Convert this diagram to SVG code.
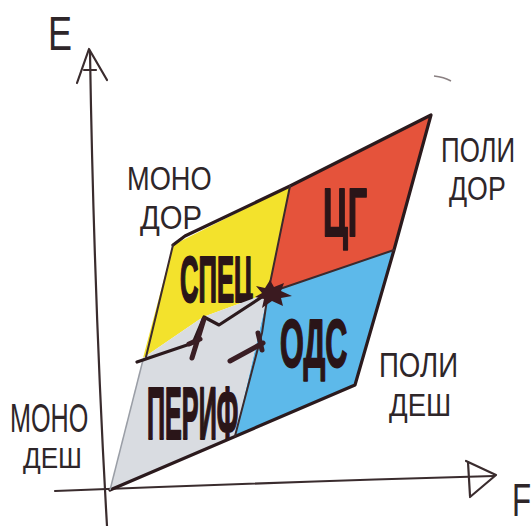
<svg xmlns="http://www.w3.org/2000/svg" width="532" height="526" viewBox="0 0 532 526">
<style>
.ax{fill:none;stroke:#3a2c2e;stroke-width:2.2;stroke-linecap:round;stroke-linejoin:round}
.edge{fill:none;stroke:#2b1a1d;stroke-width:3.2;stroke-linecap:round;stroke-linejoin:round}
.thin{fill:none;stroke:#3b2a2d;stroke-width:2;stroke-linecap:round;stroke-linejoin:round}
.lbl{font-family:"Liberation Sans",Arial,sans-serif;font-weight:normal;fill:#2e2629}
.big{font-family:"Liberation Sans",Arial,sans-serif;font-weight:bold;fill:#2a1518;stroke:#2a1518;stroke-width:1.6;vector-effect:non-scaling-stroke;stroke-linejoin:round}
.arr{fill:none;stroke:#3a1e24;stroke-width:5;stroke-linecap:round;stroke-linejoin:round}
</style>
<rect width="532" height="526" fill="#ffffff"/>
<g id="axes">
<path class="ax" d="M90,52 Q94,300 107,526"/>
<path class="ax" d="M77,83 L89,49 L107,80 M84,70 L96,70"/>
<path class="ax" d="M55,491 Q280,482 494,476"/>
<path class="ax" d="M466,461 L496,475 L470,497 M468,462 L470,496"/>
<path d="M434,76 Q444,77 451,81" fill="none" stroke="#8a8082" stroke-width="1.5"/>
<text class="lbl" font-size="48" transform="translate(48,50) scale(0.75,1)">E</text>
<text class="lbl" font-size="46" transform="translate(512,516) scale(0.68,1)">F</text>
</g>
<g id="spec">
<polygon points="173,245 290,186 268,293 203,317 143,358" fill="#f3e22c"/>
<text class="big" font-size="64" transform="translate(180,302) scale(0.40,1)">СПЕЦ</text>
</g>
<g id="cg">
<polygon points="290,186 431,115 394,250 268,293" fill="#e5533b"/>
<text class="big" font-size="68" transform="translate(323,236) scale(0.50,1)">ЦГ</text>
</g>
<g id="ods">
<polygon points="268,293 394,250 355,385 235,436" fill="#5db9ea"/>
<text class="big" font-size="68" transform="translate(280,367) scale(0.45,1)">ОДС</text>
</g>
<g id="perif">
<polygon points="143,358 203,317 268,293 235,436 110,490" fill="#d9dce1"/>
<text class="big" font-size="74" transform="translate(147,439) scale(0.34,1)">ПЕРИФ</text>
</g>
<g id="outline">
<path class="edge" d="M173,245 L185,236 L290,186 L431,115 L394,250 L355,385 L110,490"/>
<path class="thin" d="M173,245 L146,357"/>
<path d="M143,360 L110,490" fill="none" stroke="#9a9ea6" stroke-width="1.5"/>
<path class="thin" d="M290,186 L268,293"/>
<path class="thin" d="M268,293 L394,250"/>
<path class="edge" d="M137,362 L193,343 L204,317 L219,325 L268,293"/>
<path class="thin" d="M268,293 L262,333 L258,348 L235,436"/>
</g>
<g id="labels">
<text class="lbl" font-size="34" transform="translate(127,190) scale(0.80,1)">МОНО</text>
<text class="lbl" font-size="34" transform="translate(140,229) scale(0.86,1)">ДОР</text>
<text class="lbl" font-size="36" transform="translate(441,162) scale(0.72,1)">ПОЛИ</text>
<text class="lbl" font-size="33" transform="translate(449,200) scale(0.81,1)">ДОР</text>
<text class="lbl" font-size="35" transform="translate(379,377) scale(0.79,1)">ПОЛИ</text>
<text class="lbl" font-size="32" transform="translate(389,416) scale(0.86,1)">ДЕШ</text>
<text class="lbl" font-size="40" transform="translate(10,432) scale(0.63,1)">МОНО</text>
<text class="lbl" font-size="30" transform="translate(23,468) scale(0.87,1)">ДЕШ</text>
</g>
<g id="connectors">
<path class="arr" d="M192,358 L204,319"/>
<path class="arr" d="M189,344 L200,339"/>
<path class="arr" d="M230,361 L263,343"/>
<path class="arr" d="M258,333 L262,350"/>
<polygon points="256,286 265,288 270,280 274,287 284,283 281,291 292,296 281,298 283,306 272,301 262,308 264,299 255,297 262,293" fill="#3a1a20"/>
</g>
</svg>
